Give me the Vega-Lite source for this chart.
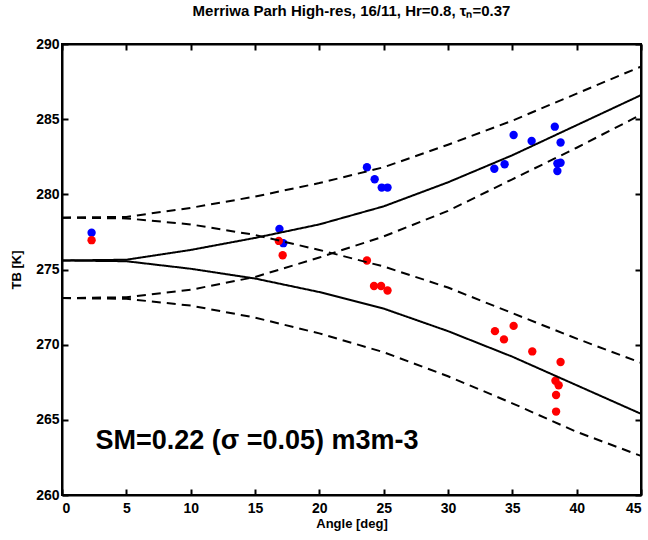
{
  "$schema": "https://vega.github.io/schema/vega-lite/v6.json",
  "width": 579,
  "height": 451,
  "autosize": "none",
  "padding": {"left": 62, "top": 44, "right": 7, "bottom": 45},
  "background": "white",
  "config": {
    "view": {"stroke": "black", "strokeWidth": 2},
    "font": "Liberation Sans",
    "axis": {
      "domainColor": "black", "domainWidth": 2, "tickColor": "black", "tickWidth": 2,
      "tickSize": -6, "labelFont": "Liberation Sans", "labelFontWeight": "bold", "labelFontSize": 14,
      "labelColor": "black", "titleFont": "Liberation Sans", "titleFontWeight": "bold", "titleFontSize": 13,
      "titleColor": "black", "grid": false
    }
  },
  "title": {
    "text": "Merriwa Parh High-res, 16/11, Hr=0.8, τₙ=0.37",
    "font": "Liberation Sans", "fontSize": 15, "fontWeight": "bold", "color": "black",
    "anchor": "middle", "offset": 18
  },
  "datasets": {
    "pts": [
      {"angle": 2.3, "tb": 277.45, "pol": "V"},
      {"angle": 16.9, "tb": 277.7, "pol": "V"},
      {"angle": 17.2, "tb": 276.75, "pol": "V"},
      {"angle": 23.7, "tb": 281.8, "pol": "V"},
      {"angle": 24.3, "tb": 281.0, "pol": "V"},
      {"angle": 24.85, "tb": 280.45, "pol": "V"},
      {"angle": 25.3, "tb": 280.45, "pol": "V"},
      {"angle": 33.6, "tb": 281.7, "pol": "V"},
      {"angle": 34.4, "tb": 282.0, "pol": "V"},
      {"angle": 35.1, "tb": 283.95, "pol": "V"},
      {"angle": 36.5, "tb": 283.55, "pol": "V"},
      {"angle": 38.3, "tb": 284.5, "pol": "V"},
      {"angle": 38.75, "tb": 283.45, "pol": "V"},
      {"angle": 38.5, "tb": 282.05, "pol": "V"},
      {"angle": 38.75, "tb": 282.1, "pol": "V"},
      {"angle": 38.5, "tb": 281.55, "pol": "V"},
      {"angle": 2.3, "tb": 276.95, "pol": "H"},
      {"angle": 16.85, "tb": 276.9, "pol": "H"},
      {"angle": 17.15, "tb": 275.95, "pol": "H"},
      {"angle": 23.7, "tb": 275.6, "pol": "H"},
      {"angle": 24.25, "tb": 273.9, "pol": "H"},
      {"angle": 24.8, "tb": 273.9, "pol": "H"},
      {"angle": 25.3, "tb": 273.6, "pol": "H"},
      {"angle": 33.65, "tb": 270.9, "pol": "H"},
      {"angle": 34.35, "tb": 270.35, "pol": "H"},
      {"angle": 35.1, "tb": 271.25, "pol": "H"},
      {"angle": 36.55, "tb": 269.55, "pol": "H"},
      {"angle": 38.75, "tb": 268.85, "pol": "H"},
      {"angle": 38.35, "tb": 267.6, "pol": "H"},
      {"angle": 38.6, "tb": 267.3, "pol": "H"},
      {"angle": 38.4, "tb": 266.65, "pol": "H"},
      {"angle": 38.4, "tb": 265.55, "pol": "H"}
    ],
    "curves": [
      {"angle": 0, "tb": 275.6, "curve": "V", "style": "solid"},
      {"angle": 5, "tb": 275.65, "curve": "V", "style": "solid"},
      {"angle": 10, "tb": 276.3, "curve": "V", "style": "solid"},
      {"angle": 15, "tb": 277.1, "curve": "V", "style": "solid"},
      {"angle": 20, "tb": 278.0, "curve": "V", "style": "solid"},
      {"angle": 25, "tb": 279.2, "curve": "V", "style": "solid"},
      {"angle": 30, "tb": 280.8, "curve": "V", "style": "solid"},
      {"angle": 35, "tb": 282.6, "curve": "V", "style": "solid"},
      {"angle": 40, "tb": 284.6, "curve": "V", "style": "solid"},
      {"angle": 45, "tb": 286.6, "curve": "V", "style": "solid"},
      {"angle": 0, "tb": 275.6, "curve": "H", "style": "solid"},
      {"angle": 5, "tb": 275.55, "curve": "H", "style": "solid"},
      {"angle": 10, "tb": 275.05, "curve": "H", "style": "solid"},
      {"angle": 15, "tb": 274.4, "curve": "H", "style": "solid"},
      {"angle": 20, "tb": 273.5, "curve": "H", "style": "solid"},
      {"angle": 25, "tb": 272.4, "curve": "H", "style": "solid"},
      {"angle": 30, "tb": 270.9, "curve": "H", "style": "solid"},
      {"angle": 35, "tb": 269.2, "curve": "H", "style": "solid"},
      {"angle": 40, "tb": 267.3, "curve": "H", "style": "solid"},
      {"angle": 45, "tb": 265.4, "curve": "H", "style": "solid"},
      {"angle": 0, "tb": 278.45, "curve": "Vp", "style": "dashed"},
      {"angle": 5, "tb": 278.5, "curve": "Vp", "style": "dashed"},
      {"angle": 10, "tb": 279.1, "curve": "Vp", "style": "dashed"},
      {"angle": 15, "tb": 279.85, "curve": "Vp", "style": "dashed"},
      {"angle": 20, "tb": 280.75, "curve": "Vp", "style": "dashed"},
      {"angle": 25, "tb": 281.8, "curve": "Vp", "style": "dashed"},
      {"angle": 30, "tb": 283.3, "curve": "Vp", "style": "dashed"},
      {"angle": 35, "tb": 284.9, "curve": "Vp", "style": "dashed"},
      {"angle": 40, "tb": 286.7, "curve": "Vp", "style": "dashed"},
      {"angle": 45, "tb": 288.5, "curve": "Vp", "style": "dashed"},
      {"angle": 0, "tb": 273.1, "curve": "Vm", "style": "dashed"},
      {"angle": 5, "tb": 273.15, "curve": "Vm", "style": "dashed"},
      {"angle": 10, "tb": 273.65, "curve": "Vm", "style": "dashed"},
      {"angle": 15, "tb": 274.5, "curve": "Vm", "style": "dashed"},
      {"angle": 20, "tb": 275.8, "curve": "Vm", "style": "dashed"},
      {"angle": 25, "tb": 277.2, "curve": "Vm", "style": "dashed"},
      {"angle": 30, "tb": 278.9, "curve": "Vm", "style": "dashed"},
      {"angle": 35, "tb": 281.0, "curve": "Vm", "style": "dashed"},
      {"angle": 40, "tb": 283.1, "curve": "Vm", "style": "dashed"},
      {"angle": 45, "tb": 285.3, "curve": "Vm", "style": "dashed"},
      {"angle": 0, "tb": 278.45, "curve": "Hp", "style": "dashed"},
      {"angle": 5, "tb": 278.4, "curve": "Hp", "style": "dashed"},
      {"angle": 10, "tb": 278.0, "curve": "Hp", "style": "dashed"},
      {"angle": 15, "tb": 277.3, "curve": "Hp", "style": "dashed"},
      {"angle": 20, "tb": 276.3, "curve": "Hp", "style": "dashed"},
      {"angle": 25, "tb": 275.2, "curve": "Hp", "style": "dashed"},
      {"angle": 30, "tb": 273.8, "curve": "Hp", "style": "dashed"},
      {"angle": 35, "tb": 272.1, "curve": "Hp", "style": "dashed"},
      {"angle": 40, "tb": 270.4, "curve": "Hp", "style": "dashed"},
      {"angle": 45, "tb": 268.8, "curve": "Hp", "style": "dashed"},
      {"angle": 0, "tb": 273.1, "curve": "Hm", "style": "dashed"},
      {"angle": 5, "tb": 273.05, "curve": "Hm", "style": "dashed"},
      {"angle": 10, "tb": 272.6, "curve": "Hm", "style": "dashed"},
      {"angle": 15, "tb": 271.8, "curve": "Hm", "style": "dashed"},
      {"angle": 20, "tb": 270.75, "curve": "Hm", "style": "dashed"},
      {"angle": 25, "tb": 269.5, "curve": "Hm", "style": "dashed"},
      {"angle": 30, "tb": 267.9, "curve": "Hm", "style": "dashed"},
      {"angle": 35, "tb": 266.1, "curve": "Hm", "style": "dashed"},
      {"angle": 40, "tb": 264.2, "curve": "Hm", "style": "dashed"},
      {"angle": 45, "tb": 262.6, "curve": "Hm", "style": "dashed"}
    ],
    "note": [
      {"angle": 2.6, "tb": 263.6, "label": "SM=0.22 (σ =0.05) m3m-3"}
    ]
  },
  "layer": [
    {
      "data": {"name": "pts"},
      "mark": {"type": "circle", "size": 70, "opacity": 1},
      "encoding": {
        "x": {"field": "angle", "type": "quantitative", "scale": {"domain": [0, 45], "nice": false},
              "axis": {"values": [0,5,10,15,20,25,30,35,40,45], "title": "Angle [deg]", "titlePadding": 2, "labelPadding": 12}},
        "y": {"field": "tb", "type": "quantitative", "scale": {"domain": [260, 290], "nice": false, "zero": false},
              "axis": {"values": [260,265,270,275,280,285,290], "title": "TB [K]", "titlePadding": 12, "labelPadding": 9}},
        "color": {"field": "pol", "type": "nominal", "scale": {"domain": ["V", "H"], "range": ["#0000ff", "#ff0000"]}, "legend": null}
      }
    },
    {
      "data": {"name": "curves"},
      "mark": {"type": "line", "color": "black", "strokeWidth": 2},
      "encoding": {
        "x": {"field": "angle", "type": "quantitative",
              "axis": {"orient": "top", "values": [0,5,10,15,20,25,30,35,40,45], "labels": false, "title": null}},
        "y": {"field": "tb", "type": "quantitative",
              "axis": {"orient": "right", "values": [260,265,270,275,280,285,290], "labels": false, "title": null}},
        "detail": {"field": "curve"},
        "strokeDash": {"field": "style", "type": "nominal", "scale": {"domain": ["solid", "dashed"], "range": [[1, 0], [9, 6]]}, "legend": null}
      }
    },
    {
      "data": {"name": "note"},
      "mark": {"type": "text", "align": "left", "baseline": "middle", "font": "Liberation Sans", "fontSize": 27, "fontWeight": "bold", "color": "black"},
      "encoding": {
        "x": {"field": "angle", "type": "quantitative", "axis": null},
        "y": {"field": "tb", "type": "quantitative", "axis": null},
        "text": {"field": "label"}
      }
    }
  ],
  "resolve": {"axis": {"x": "independent", "y": "independent"}}
}
